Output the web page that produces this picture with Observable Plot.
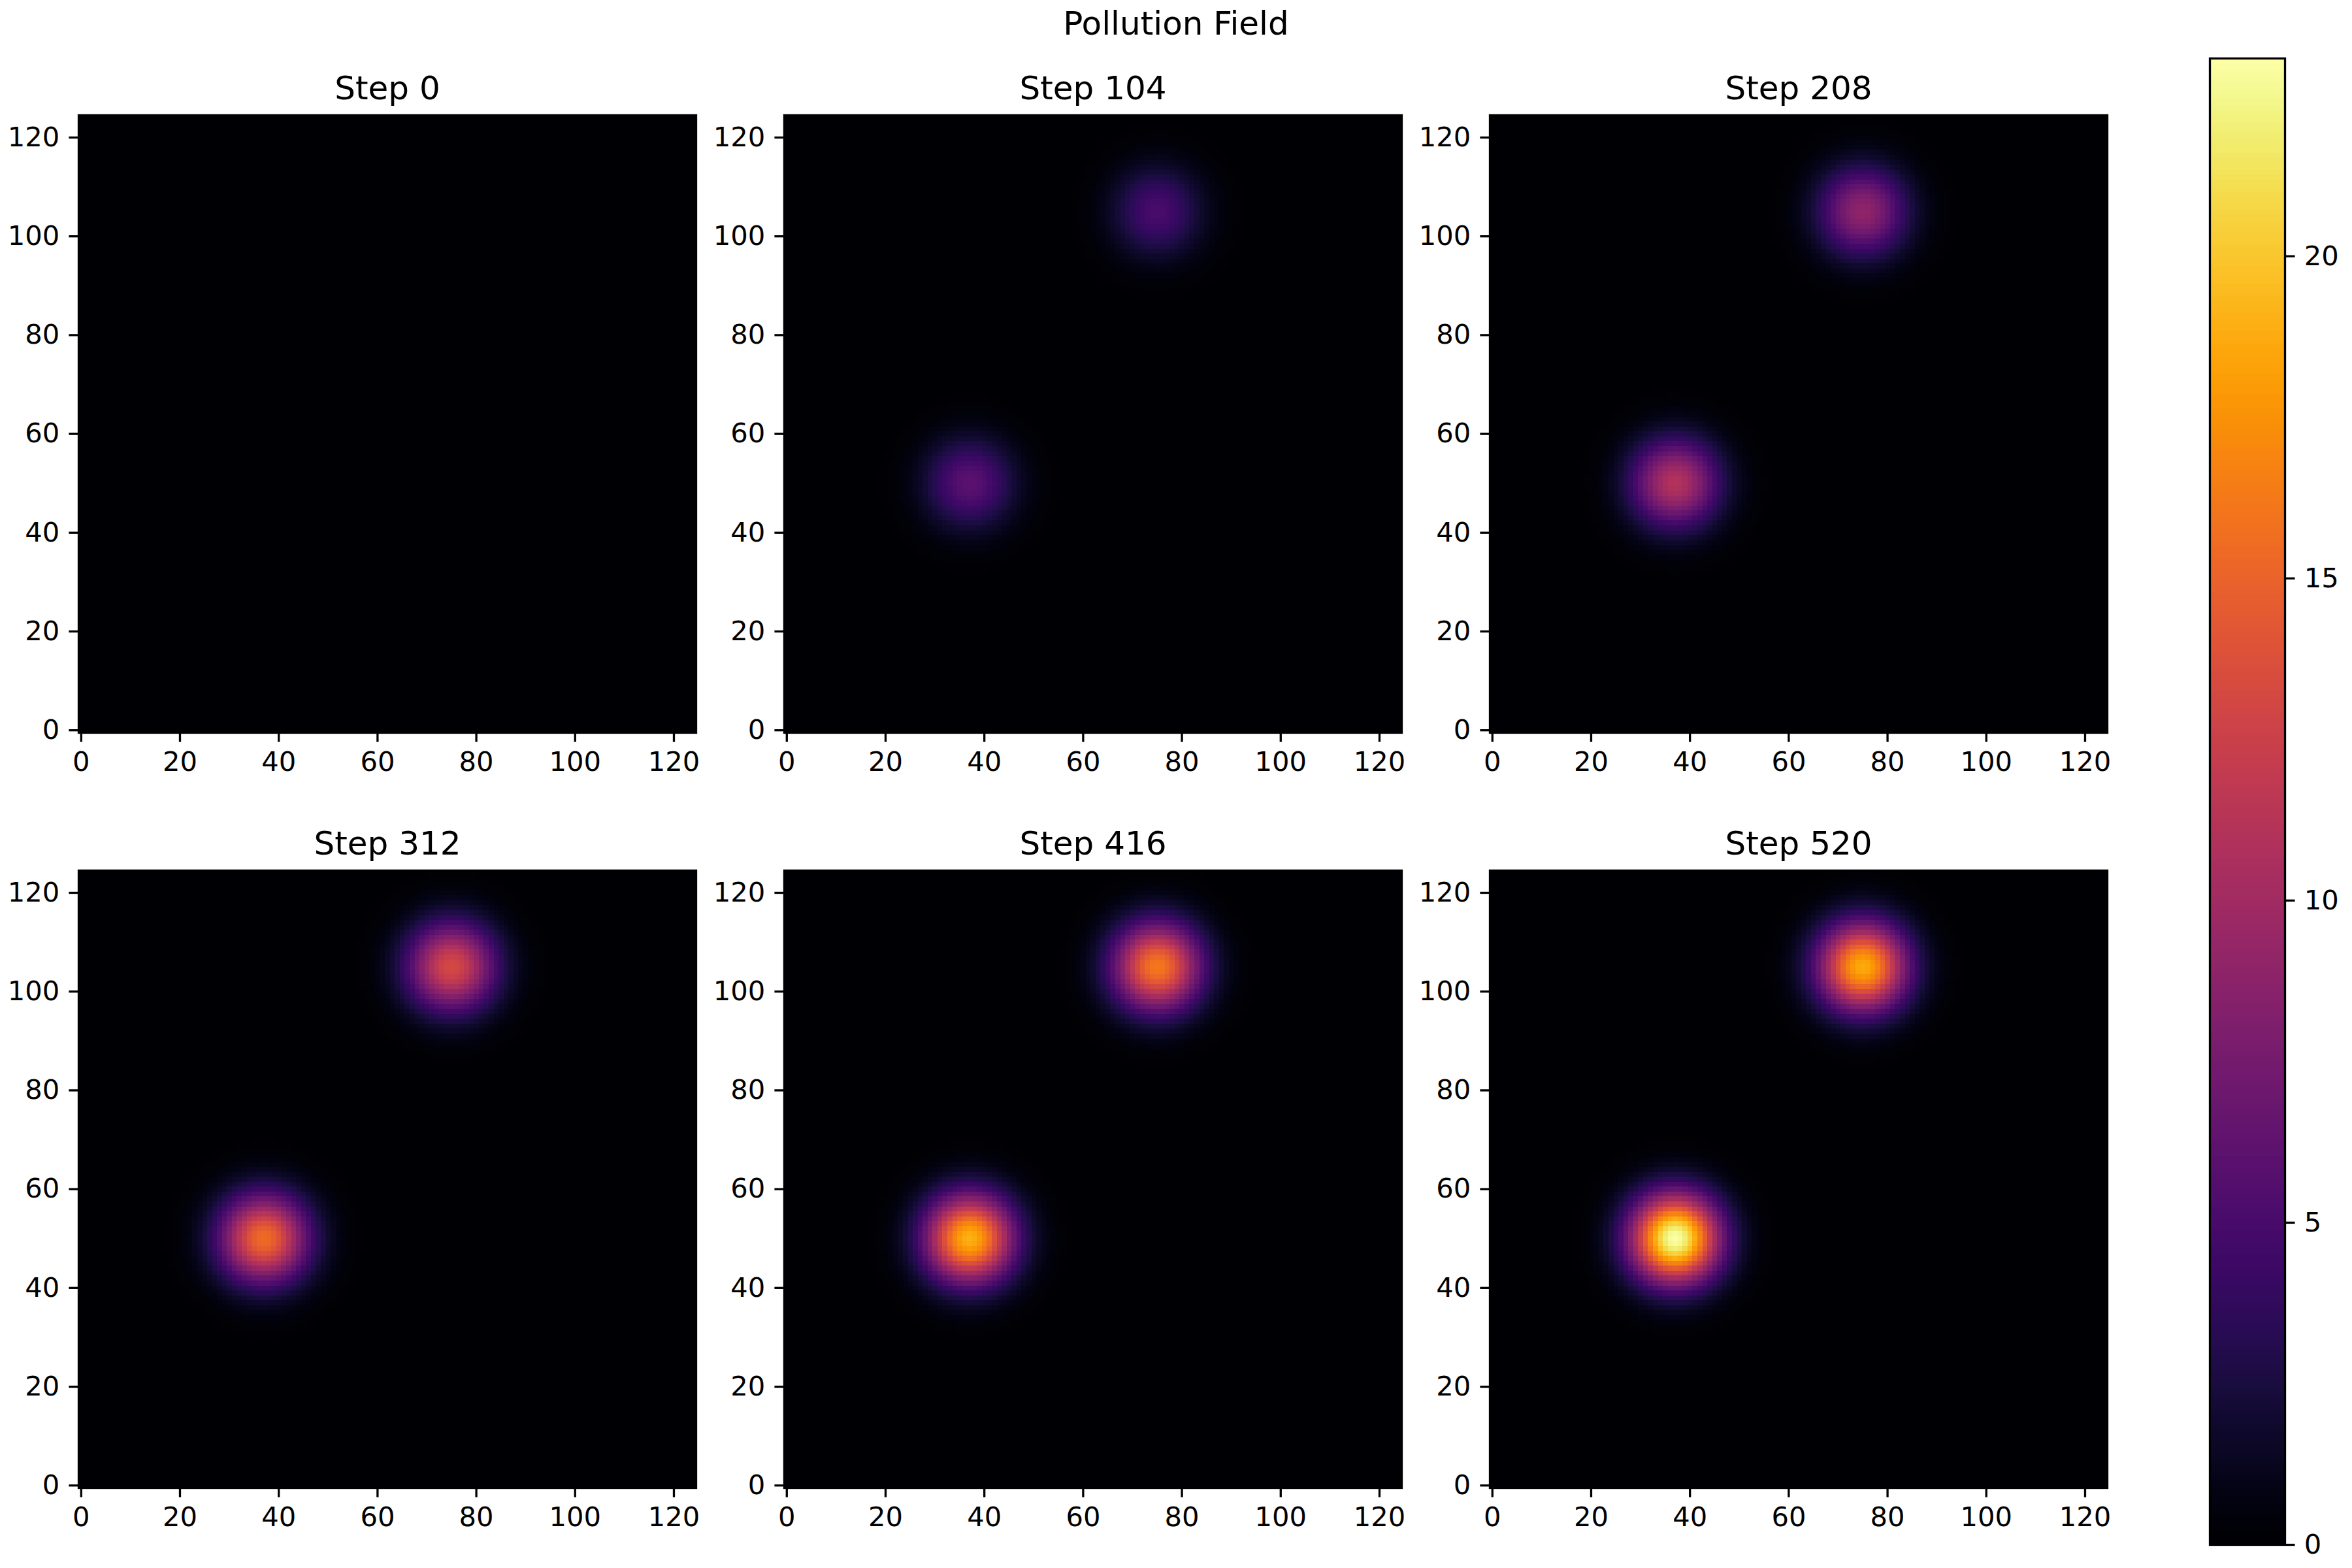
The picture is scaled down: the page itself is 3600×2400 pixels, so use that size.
<!DOCTYPE html>
<html>
<head>
<meta charset="utf-8">
<script src="https://cdn.jsdelivr.net/npm/d3@7"></script>
<script src="https://cdn.jsdelivr.net/npm/@observablehq/plot@0.6"></script>
<style>
  html, body { margin: 0; padding: 0; background: white; }
  #page { position: relative; width: 3600px; height: 2400px; background: white; font-family: "DejaVu Sans", sans-serif; }
  #page svg image { image-rendering: pixelated; }
  .panel { position: absolute; }
  #suptitle { position: absolute; left: 0; width: 3600px; text-align: center; font-size: 50px; line-height: 50px; color: black; }
</style>
</head>
<body>
<div id="page">
  <div id="suptitle">Pollution Field</div>
</div>
<script>
// ---- data ----
const steps = [0, 104, 208, 312, 416, 520];
const gridTicks = [0, 20, 40, 60, 80, 100, 120];
const colorbarTicks = [0, 5, 10, 15, 20];
const gridSize = 125;                 // cells per side (0..124)
const sourceX = [37, 75];             // plume centres (x)
const sourceY = [50, 105];            // plume centres (y)
const peakLowerLeft = [0, 6.0, 11.0, 15.5, 19.0, 23.07];   // peak concentration per step
const peakUpperRight = [0, 5.0, 9.0, 13.2, 16.2, 18.7];
const plumeSpread = [6.3, 6.3];       // plume width (cells)
const colorMax = 23.07;

// ---- layout (pixels) ----
const frame = 945;
const colLeft = [120, 1200, 2280];
const rowTop = [175.7, 1331.7];
const mL = 130, mT = 140, mR = 15, mB = 80;
const tick = 14.6, pad = 14.6, lw = 3.3, fs = 41.67;

const page = document.getElementById("page");
document.getElementById("suptitle").style.top = "11px";

function concentration(k) {
  const peaks = [peakLowerLeft[k], peakUpperRight[k]];
  return (x, y) => {
    let v = 0;
    for (let s = 0; s < 2; s++) {
      const dx = x - sourceX[s], dy = y - sourceY[s];
      v += peaks[s] * Math.exp(-(dx * dx + dy * dy) / (2 * plumeSpread[s] * plumeSpread[s]));
    }
    return v;
  };
}

steps.forEach((step, k) => {
  const col = k % 3, row = Math.floor(k / 3);
  const chart = Plot.plot({
    width: mL + frame + mR,
    height: mT + frame + mB,
    marginLeft: mL, marginRight: mR, marginTop: mT, marginBottom: mB,
    style: "background: transparent; max-width: none; overflow: visible; font-family: 'DejaVu Sans'; font-size: 41.67px; color: black;",
    x: {domain: [-0.5, gridSize - 0.5], axis: null},
    y: {domain: [-0.5, gridSize - 0.5], axis: null},
    color: {type: "linear", scheme: "inferno", domain: [0, colorMax]},
    marks: [
      Plot.raster({
        fill: concentration(k),
        x1: -0.5, x2: gridSize - 0.5, y1: -0.5, y2: gridSize - 0.5,
        width: gridSize, height: gridSize,
        imageRendering: "pixelated"
      }),
      Plot.frame({stroke: "black", strokeWidth: lw}),
      Plot.axisX({ticks: gridTicks, tickFormat: d => String(d), tickSize: tick, tickPadding: pad, strokeWidth: lw, fontSize: fs, label: null, anchor: "bottom"}),
      Plot.axisY({ticks: gridTicks, tickFormat: d => String(d), tickSize: tick, tickPadding: pad, strokeWidth: lw, fontSize: fs, label: null, anchor: "left"}),
      Plot.text([`Step ${step}`], {frameAnchor: "top", dy: -25, lineAnchor: "bottom", fontSize: 50, fill: "black"})
    ]
  });
  chart.classList.add("panel");
  chart.style.left = (colLeft[col] - mL) + "px";
  chart.style.top = (rowTop[row] - mT) + "px";
  page.appendChild(chart);
});

// ---- colorbar ----
const cbLeft = 3382, cbTop = 89, cbW = 115, cbH = 2275;
const cbmL = 10, cbmT = 10, cbmR = 120, cbmB = 30;
const cb = Plot.plot({
  width: cbmL + cbW + cbmR,
  height: cbmT + cbH + cbmB,
  marginLeft: cbmL, marginRight: cbmR, marginTop: cbmT, marginBottom: cbmB,
  style: "background: transparent; max-width: none; overflow: visible; font-family: 'DejaVu Sans'; font-size: 41.67px; color: black;",
  x: {domain: [0, 1], axis: null},
  y: {domain: [0, colorMax], axis: null},
  color: {type: "linear", scheme: "inferno", domain: [0, colorMax]},
  marks: [
    Plot.raster({fill: (x, y) => y, x1: 0, x2: 1, y1: 0, y2: colorMax, width: 1, height: 600}),
    Plot.frame({stroke: "black", strokeWidth: lw}),
    Plot.axisY({ticks: colorbarTicks, tickFormat: d => String(d), tickSize: tick, tickPadding: pad, strokeWidth: lw, fontSize: fs, label: null, anchor: "right"})
  ]
});
cb.classList.add("panel");
cb.style.left = (cbLeft - cbmL) + "px";
cb.style.top = (cbTop - cbmT) + "px";
page.appendChild(cb);
</script>
</body>
</html>
